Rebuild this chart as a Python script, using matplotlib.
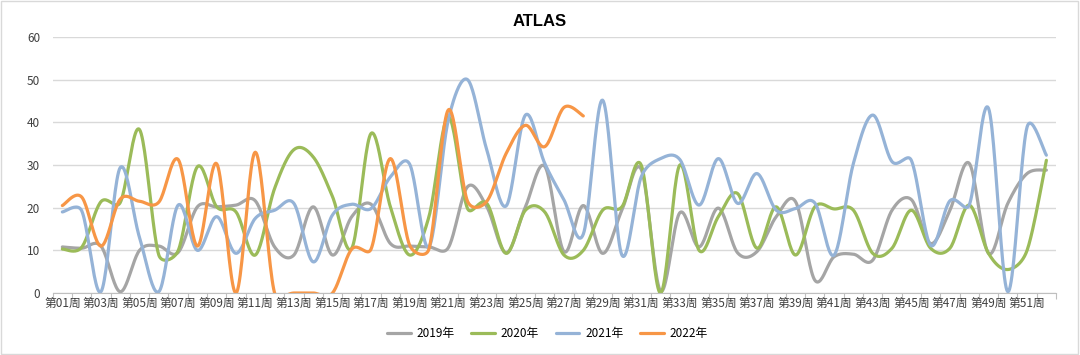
import numpy as np
import matplotlib
matplotlib.use('Agg')
import matplotlib.pyplot as plt

plt.rcParams['font.family'] = ['Noto Sans CJK SC', 'DejaVu Sans']

# === data ===
weeks = ['第%02d周' % i for i in range(1, 53)]

y2019 = [10.8, 10.5, 11, 0.3, 10, 11, 9.5, 20.2, 20.2, 20.6, 21.6, 10.8, 8.9,
         20.2, 8.9, 17.9, 20.8, 11.6, 11, 10.8, 10.6, 24.9, 20.2, 9.4, 20.2, 29.7,
         9.7, 20.5, 9.3, 19.4, 29, 0.5, 18.8, 10.8, 19.9, 9.4, 9.7, 17.9, 21.4, 3,
         8.5, 9.1, 7.7, 19.4, 21.9, 11.6, 19.4, 30.4, 9.3, 21, 28, 28.8]
y2020 = [10.3, 10.7, 21.4, 21.2, 38.3, 8.9, 9.9, 29.6, 20.2, 19, 8.9, 24.5, 33.6,
         31.9, 22.6, 10.5, 37.4, 20.2, 8.9, 17.9, 41.3, 19.8, 21, 9.3, 19.4, 19,
         8.9, 10, 19.4, 20.2, 30, 0, 30, 10, 17.9, 23.3, 10.5, 20.2, 8.9, 20.2,
         19.7, 19.4, 9.3, 10.5, 19.4, 10.5, 10.5, 20.6, 9.3, 5.5, 10, 31.1]
y2021 = [19, 19.3, 0.3, 29.4, 13, 0.3, 20.6, 10, 17.9, 9.3, 17.5, 19.4, 21,
         7.3, 18.3, 20.8, 19.8, 27.2, 30.2, 10.8, 40.5, 50, 33.5, 20.4, 41.7, 30.4,
         21.8, 13.8, 45.2, 8.9, 27.2, 31.5, 31.3, 20.6, 31.5, 21, 28, 19.4, 19.8, 21.1,
         8.9, 30.4, 41.7, 30.8, 31.1, 11.2, 21.6, 20.6, 43.3, 0.3, 38.9, 32.3]
y2022 = [20.5, 22.5, 11, 22, 21.5, 21.3, 31.3, 11, 30.3, 0, 33, 0, 0, 0, 0,
         10.3, 10.3, 31.5, 11.2, 10.3, 42.9, 21.5, 21.5, 32.7, 39.3, 34.3, 43.5, 41.5]

series = [('2019年', y2019, '#a5a5a5'),
          ('2020年', y2020, '#9bbb59'),
          ('2021年', y2021, '#95b3d7'),
          ('2022年', y2022, '#f79646')]

# pixel size of one unit on each axis, used by the smoothing
XPX = 19.3
YPX = 4.27


def smooth(x, y, n=24):
    # Excel-like smoothed line: Bezier segments, control arms capped at half the chord
    p = np.column_stack([np.asarray(x, float) * XPX, np.asarray(y, float) * YPX])
    m = len(p)
    t = np.linspace(0, 1, n)[:, None]
    out = []
    for i in range(m - 1):
        p1, p2 = p[i], p[i + 1]
        p0 = p[i - 1] if i > 0 else p1
        p3 = p[i + 2] if i + 2 < m else p2
        d12 = np.hypot(*(p2 - p1))
        d02 = np.hypot(*(p2 - p0))
        d13 = np.hypot(*(p3 - p1))
        f0 = 1 / 6 if d02 / 6 < d12 / 2 else d12 / (2 * d02)
        f1 = 1 / 6 if d13 / 6 < d12 / 2 else d12 / (2 * d13)
        c1 = p1 + f0 * (p2 - p0)
        c2 = p2 - f1 * (p3 - p1)
        b = (1 - t) ** 3 * p1 + 3 * (1 - t) ** 2 * t * c1 + 3 * (1 - t) * t ** 2 * c2 + t ** 3 * p2
        out.append(b)
    b = np.vstack(out)
    return b[:, 0] / XPX, b[:, 1] / YPX


fig = plt.figure(figsize=(10.8, 3.55), dpi=100)
ax = fig.add_axes([0.0488, 0.1746, 0.929, 0.7212])

for name, vals, col in series:
    xx = np.arange(1, len(vals) + 1)
    sx, sy = smooth(xx, vals)
    ax.plot(sx, sy, color=col, lw=2.3, label=name, solid_capstyle='round')

ax.set_xlim(0.5, 52.5)
ax.set_ylim(0, 60)
ax.set_yticks(range(0, 61, 10))
ax.grid(axis='y', color='#d9d9d9', lw=1)
ax.set_axisbelow(True)

ax.set_xticks(np.arange(0.5, 53, 1))
ax.set_xticklabels([])
ax.tick_params(axis='x', which='major', length=4, color='#bfbfbf')
ax.set_xticks(np.arange(1, 53, 2), minor=True)
ax.set_xticklabels(weeks[::2], minor=True, fontsize=8.5, color='#404040')
ax.tick_params(axis='x', which='minor', length=0, pad=3)
ax.tick_params(axis='y', length=0, labelsize=8.5, labelcolor='#404040', pad=9)

for s in ['top', 'right', 'left']:
    ax.spines[s].set_visible(False)
ax.spines['bottom'].set_color('#bfbfbf')

fig.text(0.5, 0.94, 'ATLAS', ha='center', va='center', fontsize=12, fontweight='bold',
         family=['Liberation Sans', 'DejaVu Sans'])
fig.legend(loc='center', bbox_to_anchor=(0.507, 0.06), ncol=4, frameon=False,
           fontsize=8.5, handlelength=2.0, columnspacing=1.4, handletextpad=0.5)

fig.patches.append(plt.Rectangle((0.001, 0.002), 0.997, 0.995, transform=fig.transFigure,
                                 fill=False, edgecolor='#d9d9d9', lw=1))

fig.savefig('out.png', dpi=100)
